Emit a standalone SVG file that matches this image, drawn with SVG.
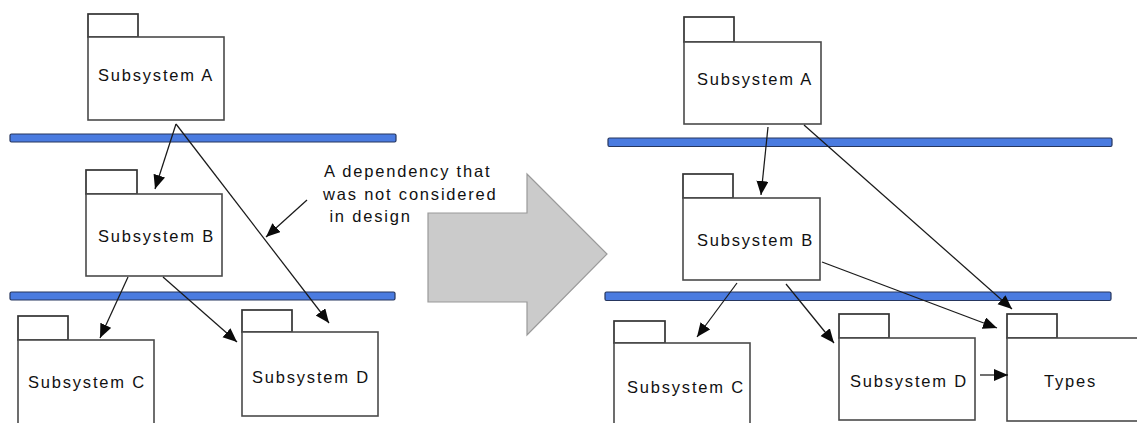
<svg xmlns="http://www.w3.org/2000/svg" width="1137" height="423" viewBox="0 0 1137 423">
<style>
  .box { fill: #ffffff; stroke: #4a4a4a; stroke-width: 1.6; }
  .tab { fill: #ffffff; stroke: #333333; stroke-width: 1.7; }
  .lbl { font-family: "Liberation Sans", Arial, sans-serif; font-size: 16.5px; letter-spacing: 1.8px; fill: #111111; }
  .bar { fill: #4a7be0; stroke: #26365e; stroke-width: 1.2; }
  .con { stroke: #1a1a1a; stroke-width: 1.25; fill: none; marker-end: url(#ah); }
</style>
<defs>
  <marker id="ah" markerUnits="userSpaceOnUse" markerWidth="15" markerHeight="13" refX="14" refY="6" orient="auto">
    <path d="M0,0 L14,6 L0,12 z" fill="#0a0a0a"/>
  </marker>
</defs>
<rect width="1137" height="423" fill="#ffffff"/>

<!-- layer bars -->
<g id="bars">
  <rect class="bar" x="10" y="134" width="386" height="8" rx="1.5"/>
  <rect class="bar" x="10" y="292" width="385" height="8" rx="1.5"/>
  <rect class="bar" x="608" y="138" width="504" height="8.5" rx="1.5"/>
  <rect class="bar" x="605" y="292" width="506" height="8.5" rx="1.5"/>
</g>

<!-- big transform arrow -->
<g id="transform-arrow">
  <polygon points="428,213 527,213 527,174 607,254 527,335 527,302 428,302" fill="#cbcbcb" stroke="#9a9a9a" stroke-width="1.2"/>
</g>

<!-- Left side nodes -->
<g id="left-subsystem-a">
  <rect class="tab" x="88" y="14" width="50" height="23"/>
  <rect class="box" x="88" y="37" width="136" height="83"/>
  <text class="lbl" x="98" y="81">Subsystem A</text>
</g>
<g id="left-subsystem-b">
  <rect class="tab" x="86" y="170" width="51" height="24"/>
  <rect class="box" x="86" y="194" width="136" height="82"/>
  <text class="lbl" x="98" y="242">Subsystem B</text>
</g>
<g id="left-subsystem-c">
  <rect class="tab" x="18" y="316" width="50" height="24"/>
  <rect class="box" x="18" y="340" width="136" height="95"/>
  <text class="lbl" x="28" y="388">Subsystem C</text>
</g>
<g id="left-subsystem-d">
  <rect class="tab" x="242" y="310" width="50" height="22"/>
  <rect class="box" x="242" y="332" width="136" height="84"/>
  <text class="lbl" x="252" y="383">Subsystem D</text>
</g>
<g id="annotation">
  <text class="lbl" x="324" y="177">A dependency that</text>
  <text class="lbl" x="323" y="200">was not considered</text>
  <text class="lbl" x="323" y="222" xml:space="preserve"> in design</text>
</g>

<!-- Right side nodes -->
<g id="right-subsystem-a">
  <rect class="tab" x="684" y="17" width="50" height="25"/>
  <rect class="box" x="684" y="42" width="137" height="82"/>
  <text class="lbl" x="697" y="85">Subsystem A</text>
</g>
<g id="right-subsystem-b">
  <rect class="tab" x="683" y="174" width="50" height="24"/>
  <rect class="box" x="683" y="198" width="137" height="82"/>
  <text class="lbl" x="697" y="246">Subsystem B</text>
</g>
<g id="right-subsystem-c">
  <rect class="tab" x="614" y="321" width="51" height="22"/>
  <rect class="box" x="614" y="343" width="136" height="95"/>
  <text class="lbl" x="627" y="393">Subsystem C</text>
</g>
<g id="right-subsystem-d">
  <rect class="tab" x="839" y="314" width="50" height="24"/>
  <rect class="box" x="839" y="338" width="136" height="82"/>
  <text class="lbl" x="850" y="387">Subsystem D</text>
</g>
<g id="right-types">
  <rect class="tab" x="1007" y="314" width="50" height="24"/>
  <rect class="box" x="1007" y="338" width="150" height="83"/>
  <text class="lbl" x="1044" y="387">Types</text>
</g>

<!-- connectors -->
<g id="connectors">
  <line class="con" x1="176" y1="124" x2="155" y2="189"/>
  <line class="con" x1="176" y1="124" x2="329" y2="323"/>
  <line class="con" x1="128" y1="277" x2="100" y2="338"/>
  <line class="con" x1="163" y1="277" x2="237" y2="342"/>
  <line class="con" x1="307" y1="200" x2="266" y2="237"/>

  <line class="con" x1="768" y1="127" x2="761" y2="195"/>
  <line class="con" x1="804" y1="125" x2="1012" y2="309"/>
  <line class="con" x1="822" y1="262" x2="997" y2="328"/>
  <line class="con" x1="737" y1="283" x2="697" y2="337"/>
  <line class="con" x1="786" y1="284" x2="834" y2="343"/>
  <line class="con" x1="980" y1="375" x2="1008" y2="375"/>
</g>
</svg>
